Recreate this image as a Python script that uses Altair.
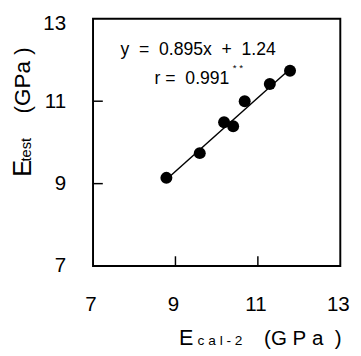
import altair as alt
import pandas as pd

# Data
x_cal = [8.78, 9.59, 10.18, 10.40, 10.68, 11.29, 11.78]
y_test = [9.14, 9.74, 10.49, 10.39, 11.00, 11.42, 11.74]
fit_x = [8.78, 11.78]
fit_y = [9.10, 11.78]
tick_vals = [7, 9, 11, 13]
inner_ticks = [9, 11]

FONT = "Liberation Sans"
W = 253
H = 253
S = "\u00a0"  # non-collapsing space

pts = pd.DataFrame({"x": x_cal, "y": y_test})
fit = pd.DataFrame({"x": fit_x, "y": fit_y})
tk = pd.DataFrame({"v": inner_ticks})
one = pd.DataFrame({"a": [0]})

xs = alt.Scale(domain=[7, 13], nice=False, zero=False)
ys = alt.Scale(domain=[7, 13], nice=False, zero=False)

xaxis = alt.Axis(values=tick_vals, ticks=False, domain=False, grid=False,
                 labelFontSize=21, labelFont=FONT, labelColor="black",
                 labelPadding=28, labelOffset=-2.5, title=None, labelFlush=False)
yaxis = alt.Axis(values=tick_vals, ticks=False, domain=False, grid=False,
                 labelFontSize=21, labelFont=FONT, labelColor="black",
                 labelPadding=28, title=None, labelFlush=False,
                 labelOffset=alt.ExprRef("datum.value == 13 ? 5 : 0"))

points = alt.Chart(pts).mark_circle(size=150, color="black", opacity=1).encode(
    x=alt.X("x:Q", scale=xs, axis=xaxis),
    y=alt.Y("y:Q", scale=ys, axis=yaxis),
)

line = alt.Chart(fit).mark_line(color="black", strokeWidth=1.5).encode(
    x=alt.X("x:Q", scale=xs),
    y=alt.Y("y:Q", scale=ys),
)

ytick = alt.Chart(tk).mark_rule(color="black", strokeWidth=1.5).encode(
    x=alt.value(0), x2=alt.value(10), y=alt.Y("v:Q", scale=ys)
)
xtick = alt.Chart(tk).mark_rule(color="black", strokeWidth=1.5).encode(
    x=alt.X("v:Q", scale=xs), y=alt.value(H), y2=alt.value(H - 10)
)


def label(txt, px, py, size, align="left", baseline="alphabetic", angle=0):
    return alt.Chart(one).mark_text(
        text=txt, font=FONT, fontSize=size, color="black",
        align=align, baseline=baseline, angle=angle,
    ).encode(x=alt.value(px), y=alt.value(py))


eq = label(f"y{S}{S}={S}{S}0.895x{S}{S}+{S}{S}1.24", 28, 32, 18, baseline="middle")
rr = label(f"r{S}={S}{S}0.991", 63, 62, 18, baseline="middle")
stars = label(f"*{S}*", 143, 50, 10, baseline="middle")

# x title
xt_E = label("E", 88, 334, 22)
xt_sub = label(f"c{S}a{S}l{S}-{S}2", 107, 334, 14)
xt_unit = label(f"(G{S}P{S}a{S}{S})", 175, 334, 21)

# y title (rotated)
yt_E = label("E", -63, 153, 26, align="center", angle=270)
yt_sub = label("test", -63, 134, 15, align="center", angle=270)
yt_unit = label(f"(GPa{S})", -65, 63, 23, align="center", angle=270)

chart = alt.layer(
    line, points, ytick, xtick, eq, rr, stars,
    xt_E, xt_sub, xt_unit, yt_E, yt_sub, yt_unit,
).properties(
    width=W, height=H,
    autosize=alt.AutoSizeParams(type="none"),
    padding={"left": 87, "top": 7, "right": 13, "bottom": 88},
).configure_view(stroke="black", strokeWidth=2)

chart.save("out.html", embed_options={"renderer": "svg", "actions": False})
